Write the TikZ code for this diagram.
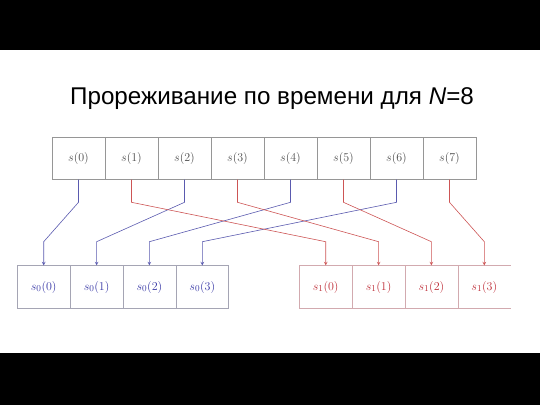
\documentclass[tikz,border=0pt]{standalone}
\usepackage{fontspec}
\setmainfont{Liberation Sans}
\usepackage{tikz}
\usetikzlibrary{calc}
\definecolor{boxgray}{RGB}{150,150,150}
\definecolor{bluebox}{RGB}{165,165,180}
\definecolor{redbox}{RGB}{210,170,175}
\definecolor{bluetext}{RGB}{55,55,165}
\definecolor{redtext}{RGB}{190,45,55}
\definecolor{blueline}{RGB}{90,90,175}
\definecolor{redline}{RGB}{205,85,85}
\newcommand{\wire}[3]{\draw[#3] (#1.south) -- ++(0,22.7) -- ($(#2.north)+(0,-23.7)$) -- (#2.north);}

\begin{document}
\begin{tikzpicture}[x=1pt,y=-1pt,
    sample/.style={draw=boxgray,line width=.6pt,minimum width=53pt,minimum height=42pt,inner sep=0pt,text=black!70,font=\fontsize{13}{15}\selectfont},
    evenbox/.style={draw=bluebox,line width=.6pt,minimum width=52.85pt,minimum height=42.6pt,inner sep=0pt,text=bluetext,font=\fontsize{13}{15}\selectfont},
    oddbox/.style={draw=redbox,line width=.6pt,minimum width=52.85pt,minimum height=42.6pt,inner sep=0pt,text=redtext,font=\fontsize{13}{15}\selectfont},
    bluewire/.style={blueline,line width=.6pt,-stealth},
    redwire/.style={redline,line width=.6pt,-stealth}]
  \useasboundingbox (0,0) rectangle (540,405);
  \fill[black] (0,0) rectangle (540,50);
  \fill[black] (0,353) rectangle (540,405);

  \node[anchor=base,font=\fontsize{24.2}{29}\selectfont](title) at (272,104) {Прореживание по времени для \textit{N}=8};

  % input sequence
  \node[sample](s0) at (78.5,158.3) {$s(0)$};
  \node[sample](s1) at (131.5,158.3) {$s(1)$};
  \node[sample](s2) at (184.5,158.3) {$s(2)$};
  \node[sample](s3) at (237.5,158.3) {$s(3)$};
  \node[sample](s4) at (290.5,158.3) {$s(4)$};
  \node[sample](s5) at (343.5,158.3) {$s(5)$};
  \node[sample](s6) at (396.5,158.3) {$s(6)$};
  \node[sample](s7) at (449.5,158.3) {$s(7)$};

  % even samples
  \node[evenbox](e0) at (43.7,287) {$s_0(0)$};
  \node[evenbox](e1) at (96.6,287) {$s_0(1)$};
  \node[evenbox](e2) at (149.4,287) {$s_0(2)$};
  \node[evenbox](e3) at (202.3,287) {$s_0(3)$};

  % odd samples
  \node[oddbox](o0) at (325.7,287) {$s_1(0)$};
  \node[oddbox](o1) at (378.6,287) {$s_1(1)$};
  \node[oddbox](o2) at (431.4,287) {$s_1(2)$};
  \node[oddbox,draw=none](o3) at (484.3,287) {$s_1(3)$};
  \draw[redbox,line width=.6pt] (o3.north west) -- (o3.north east);
  \draw[redbox,line width=.6pt] (o3.south west) -- (o3.south east);

  \wire{s0}{e0}{bluewire}
  \wire{s2}{e1}{bluewire}
  \wire{s4}{e2}{bluewire}
  \wire{s6}{e3}{bluewire}
  \wire{s1}{o0}{redwire}
  \wire{s3}{o1}{redwire}
  \wire{s5}{o2}{redwire}
  \wire{s7}{o3}{redwire}
\end{tikzpicture}
\end{document}
